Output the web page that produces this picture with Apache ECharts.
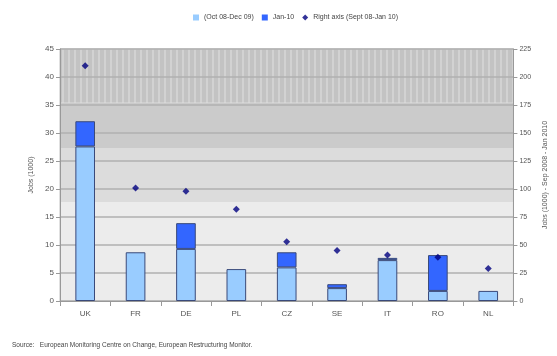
<!DOCTYPE html>
<html><head><meta charset="utf-8">
<script src="https://cdn.jsdelivr.net/npm/echarts@6/dist/echarts.min.js"></script>
<style>html,body{margin:0;padding:0;background:#fff}#c{width:557px;height:356px}</style>
</head><body><div id="c"></div>
<script>
const categories = ['UK','FR','DE','PL','CZ','SE','IT','RO','NL'];
const jobs2009 = [27.6, 8.7, 9.3, 5.7, 6.0, 2.3, 7.3, 1.8, 1.8];
const jobsJan10 = [4.5, null, 4.6, null, 2.7, 0.7, 0.4, 6.4, null];
const rightAxisVals = [210, 101, 98, 82, 53, 45, 41, 39, 29];
const leftTicks = [0,5,10,15,20,25,30,35,40,45];
const rightTicks = [0,25,50,75,100,125,150,175,200,225];
const legendNames = ['(Oct 08-Dec 09)', 'Jan-10', 'Right axis (Sept 08-Jan 10)'];
const bandEdges = [0, 17.6, 27.3, 35.4, 45];

// hatch pattern for top band
const pc = document.createElement('canvas');
pc.width = 6; pc.height = 6;
const g = pc.getContext('2d');
g.fillStyle = '#c3c3c3'; g.fillRect(0,0,6,6);
g.fillStyle = '#d2d2d2'; g.fillRect(2,0,2,6);

const chart = echarts.init(document.getElementById('c'), null, {renderer:'canvas'});
chart.setOption({
  animation:false,
  textStyle:{fontFamily:'Liberation Sans, Arial, sans-serif'},
  legend:{
    top:9, left:188, itemWidth:6, itemHeight:6, itemGap:8,
    textStyle:{fontSize:7, color:'#444'},
    itemStyle:{borderWidth:0},
    data:[{name:legendNames[0], icon:'rect'},{name:legendNames[1], icon:'rect'},{name:legendNames[2], icon:'diamond'}]
  },
  grid:{left:60, right:38, top:49, bottom:55, show:true, borderColor:'#c0c0c0', borderWidth:1},
  xAxis:{type:'category', data:categories,
    axisLine:{lineStyle:{color:'#999'}}, axisTick:{show:true, lineStyle:{color:'#999'}},
    axisLabel:{fontSize:8, color:'#555', margin:9}},
  yAxis:[
    {type:'value', min:0, max:45, interval:5, name:'Jobs (1000)', nameLocation:'middle', nameGap:22,
     nameTextStyle:{fontSize:7, color:'#555'},
     axisLine:{show:true, lineStyle:{color:'#999'}}, axisTick:{show:true, length:4, lineStyle:{color:'#999'}},
     axisLabel:{fontSize:8, color:'#555', margin:6},
     splitLine:{lineStyle:{color:'#b0b0b0', width:1.5}}},
    {type:'value', min:0, max:225, interval:25, name:'Jobs (1000) - Sep 2008 - Jan 2010', nameLocation:'middle', nameGap:26,
     nameTextStyle:{fontSize:7, color:'#555'},
     axisLine:{show:true, lineStyle:{color:'#999'}}, axisTick:{show:true, length:4, lineStyle:{color:'#999'}},
     axisLabel:{fontSize:7, color:'#555', margin:6}, splitLine:{show:false}}
  ],
  series:[
    {name:'bg', type:'line', data:[], z:-1, silent:true,
     markArea:{silent:true, z:-1, data:[
       [{yAxis:bandEdges[3], itemStyle:{color:{image:pc, repeat:'repeat'}}},{yAxis:bandEdges[4]}],
       [{yAxis:bandEdges[2], itemStyle:{color:'#cbcbcb'}},{yAxis:bandEdges[3]}],
       [{yAxis:bandEdges[1], itemStyle:{color:'#dcdcdc'}},{yAxis:bandEdges[2]}],
       [{yAxis:bandEdges[0], itemStyle:{color:'#ececec'}},{yAxis:bandEdges[1]}]
     ]}},
    {name:legendNames[0], type:'bar', stack:'a', data:jobs2009, barWidth:'39%',
     itemStyle:{color:'#99ccff', borderColor:'#3a4a7a', borderWidth:1}},
    {name:legendNames[1], type:'bar', stack:'a', data:jobsJan10, barWidth:'39%',
     itemStyle:{color:'#3366ff', borderColor:'#3a4a7a', borderWidth:1}},
    {name:legendNames[2], type:'scatter', yAxisIndex:1, data:rightAxisVals, symbol:'diamond', symbolSize:7,
     itemStyle:{color:'#000080'}}
  ],
  graphic:[{type:'text', left:12, top:342, style:{text:'Source:   European Monitoring Centre on Change, European Restructuring Monitor.', fontSize:6.5, fill:'#444', fontFamily:'Liberation Sans, Arial, sans-serif'}}]
});
</script></body></html>
